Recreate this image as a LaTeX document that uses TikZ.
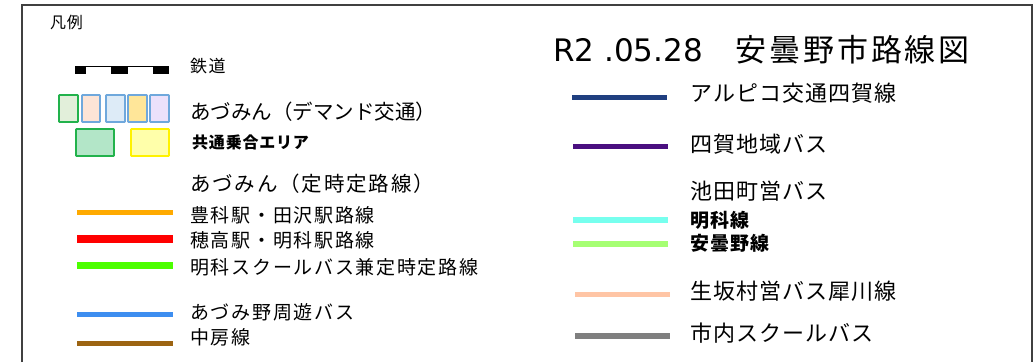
\documentclass[tikz,border=0pt]{standalone}
\usepackage{fontspec}
\setmainfont{Noto Sans CJK JP}
\newfontfamily\latinfont{DejaVu Sans}
\newfontfamily\jpwide[LetterSpace=9]{Noto Sans CJK JP}
\newfontfamily\jpmid[LetterSpace=5]{Noto Sans CJK JP}
\usetikzlibrary{positioning}

\definecolor{framegray}{HTML}{404040}
\definecolor{toyoshina}{HTML}{FFAA00}
\definecolor{hotaka}{HTML}{FF0000}
\definecolor{akashina}{HTML}{4CFF00}
\definecolor{shuyu}{HTML}{3D8EF0}
\definecolor{nakabusa}{HTML}{9C6412}
\definecolor{alpico}{HTML}{203F80}
\definecolor{shiga}{HTML}{4A0F80}
\definecolor{ikedaA}{HTML}{77FFEE}
\definecolor{ikedaB}{HTML}{A6FF73}
\definecolor{ikusaka}{HTML}{FFC5A5}
\definecolor{school}{HTML}{7F7F7F}
\definecolor{areagreen}{HTML}{22B24C}
\definecolor{areablue}{HTML}{6FA8DC}

\begin{document}
\begin{tikzpicture}[x=1pt, y=-1pt,
    lab/.style={anchor=west, inner sep=0pt, font=\jpwide\fontsize{19}{19}\selectfont},
    big/.style={anchor=west, inner sep=0pt, font=\jpmid\fontsize{22}{22}\selectfont},
    small/.style={anchor=west, inner sep=0pt, font=\jpmid\fontsize{16}{16}\selectfont\bfseries},
    area/.style={line width=1.6pt, rounded corners=0.5pt}]
    \useasboundingbox (0,0) rectangle (1035,362);
    % frame, open at the bottom
    \coordinate (f1) at (22,362);
    \coordinate (f2) at (22,5);
    \coordinate (f3) at (1032,5);
    \coordinate (f4) at (1032,362);
    \draw[framegray, line width=2pt] (f1)--(f2)--(f3)--(f4);

    \node[inner sep=0pt, anchor=west, font=\jpmid\fontsize{16}{16}\selectfont] (hanrei) at (50,22) {凡例};
    \node[inner sep=0pt, anchor=west, font=\fontsize{31}{31}\selectfont] (title) at (553,50)
        {{\latinfont\fontsize{31}{31}\selectfont R2 .05.28}\hspace{33pt}{\jpwide 安曇野市路線図}};

    % railway
    \coordinate (rw1) at (75,66.5);
    \coordinate (rw2) at (169,66.5);
    \draw[line width=1.5pt] (rw1)--(rw2);
    \fill (75,65.7) rectangle (86,74.3);
    \fill (111,65.7) rectangle (128,74.3);
    \fill (153,65.7) rectangle (169,74.3);
    \node[lab, font=\jpwide\fontsize{17}{17}\selectfont] (tetsudo) at (190,66) {鉄道};

    % demand areas
    \draw[area, areagreen, fill={rgb,255:red,226;green,239;blue,218}] (59,95) rectangle (78,122);
    \draw[area, areablue, fill={rgb,255:red,252;green,228;blue,214}] (82,95) rectangle (100,122);
    \draw[area, areablue, fill={rgb,255:red,221;green,235;blue,247}] (106,95) rectangle (125,122);
    \draw[area, areablue, fill={rgb,255:red,255;green,230;blue,153}] (128,95) rectangle (147,122);
    \draw[area, areablue, fill={rgb,255:red,236;green,225;blue,251}] (150,95) rectangle (169,122);
    \draw[area, areagreen, fill={rgb,255:red,179;green,230;blue,200}] (76,129) rectangle (114,156);
    \draw[area, yellow, fill={rgb,255:red,255;green,255;blue,170}] (131,129) rectangle (169,156);
    \node[lab, font=\fontsize{20.5}{20.5}\selectfont] (demand) at (190,112) {あづみん（デマンド交通）};
    \node[small] (kyotsu) at (192,142) {共通乗合エリア};

    % teiji routes
    \node[lab, font=\jpwide\fontsize{20.5}{20.5}\selectfont] (teiji) at (190,184) {あづみん（定時定路線）};
    \coordinate (a1) at (77,212);
    \coordinate (a2) at (173,212);
    \draw[toyoshina, line width=5pt] (a1)--(a2);
    \node[lab] (t1) at (190,215) {豊科駅・田沢駅路線};
    \coordinate (b1) at (77,239);
    \coordinate (b2) at (173,239);
    \draw[hotaka, line width=8pt] (b1)--(b2);
    \node[lab] (t2) at (190,240) {穂高駅・明科駅路線};
    \coordinate (c1) at (77,265);
    \coordinate (c2) at (173,265);
    \draw[akashina, line width=7pt] (c1)--(c2);
    \node[lab] (t3) at (190,267) {明科スクールバス兼定時定路線};
    \coordinate (d1) at (77,314);
    \coordinate (d2) at (173,314);
    \draw[shuyu, line width=5pt] (d1)--(d2);
    \node[lab] (t4) at (190,312) {あづみ野周遊バス};
    \coordinate (e1) at (77,343);
    \coordinate (e2) at (173,343);
    \draw[nakabusa, line width=5pt] (e1)--(e2);
    \node[lab] (t5) at (190,337) {中房線};

    % right column
    \coordinate (g1) at (572,97);
    \coordinate (g2) at (667,97);
    \draw[alpico, line width=5pt] (g1)--(g2);
    \node[big] (u1) at (690,93) {アルピコ交通四賀線};
    \coordinate (h1) at (573,146);
    \coordinate (h2) at (668,146);
    \draw[shiga, line width=5pt] (h1)--(h2);
    \node[big] (u2) at (690,144) {四賀地域バス};
    \node[big] (ikeda) at (690,191) {池田町営バス};
    \coordinate (i1) at (573,220);
    \coordinate (i2) at (668,220);
    \draw[ikedaA, line width=6pt] (i1)--(i2);
    \node[small, font=\jpmid\fontsize{19}{19}\selectfont\bfseries] (u3) at (690,220) {明科線};
    \coordinate (j1) at (573,244);
    \coordinate (j2) at (668,244);
    \draw[ikedaB, line width=6pt] (j1)--(j2);
    \node[small, font=\jpmid\fontsize{19}{19}\selectfont\bfseries] (u4) at (690,243) {安曇野線};
    \coordinate (k1) at (575,294);
    \coordinate (k2) at (670,294);
    \draw[ikusaka, line width=5pt] (k1)--(k2);
    \node[big] (u5) at (690,291) {生坂村営バス犀川線};
    \coordinate (m1) at (575,336);
    \coordinate (m2) at (670,336);
    \draw[school, line width=6pt] (m1)--(m2);
    \node[big] (u6) at (690,333) {市内スクールバス};
\end{tikzpicture}
\end{document}
